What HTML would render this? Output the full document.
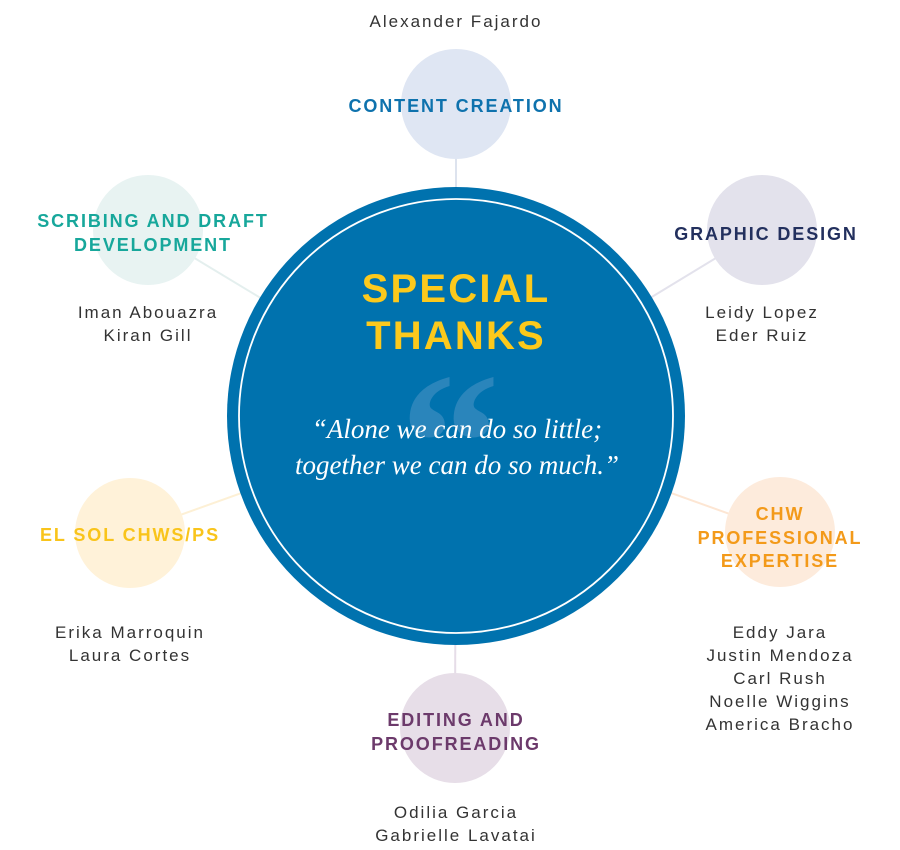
<!DOCTYPE html>
<html><head><meta charset="utf-8"><style>
html,body{margin:0;padding:0;background:#fff;}
svg{display:block;}
.h{font-family:"Liberation Sans",sans-serif;font-weight:bold;font-size:18px;letter-spacing:1.9px;text-anchor:middle;}
.n{font-family:"Liberation Sans",sans-serif;font-size:17px;letter-spacing:2px;fill:#333;text-anchor:middle;}
</style></head><body>
<svg width="900" height="850" viewBox="0 0 900 850" xmlns="http://www.w3.org/2000/svg">
<g stroke-width="2">
<line x1="456" y1="104" x2="456" y2="416" stroke="#dde3ee"/>
<line x1="762" y1="230" x2="456" y2="416" stroke="#e3e2ec"/>
<line x1="148" y1="230" x2="456" y2="416" stroke="#e4efee"/>
<line x1="130" y1="533" x2="456" y2="416" stroke="#fdf0d5"/>
<line x1="780" y1="532" x2="456" y2="416" stroke="#fde6d3"/>
<line x1="455" y1="728" x2="456" y2="416" stroke="#e6dde8"/>
</g>
<circle cx="456" cy="104" r="55" fill="#dfe6f3"/>
<circle cx="762" cy="230" r="55" fill="#e3e2ec"/>
<circle cx="148" cy="230" r="55" fill="#e8f3f2"/>
<circle cx="130" cy="533" r="55" fill="#fff2d9"/>
<circle cx="780" cy="532" r="55" fill="#fdebdc"/>
<circle cx="455" cy="728" r="55" fill="#e7dee8"/>
<circle cx="456" cy="416" r="229" fill="#0072ae"/>
<circle cx="456" cy="416" r="217" fill="none" stroke="#fff" stroke-width="1.8"/>
<text x="456" y="302" font-family="Liberation Sans,sans-serif" font-size="40" font-weight="bold" fill="#fcc91c" text-anchor="middle" letter-spacing="2.2">SPECIAL</text>
<text x="456" y="349" font-family="Liberation Sans,sans-serif" font-size="40" font-weight="bold" fill="#fcc91c" text-anchor="middle" letter-spacing="2.2">THANKS</text>
<text x="450" y="510" font-family="Liberation Serif,serif" font-size="200" font-weight="bold" fill="#2a85bb" text-anchor="middle">“</text>
<text x="457" y="438" font-family="Liberation Serif,serif" font-style="italic" font-size="27" fill="#fff" text-anchor="middle">“Alone we can do so little;</text>
<text x="457" y="474" font-family="Liberation Serif,serif" font-style="italic" font-size="27" fill="#fff" text-anchor="middle">together we can do so much.”</text>

<text class="n" x="456" y="27">Alexander Fajardo</text>
<text class="h" x="456" y="112" fill="#0e72ad">CONTENT CREATION</text>
<text class="h" x="766" y="240" fill="#23305e">GRAPHIC DESIGN</text>
<text class="n" x="762" y="318">Leidy Lopez</text>
<text class="n" x="762" y="341">Eder Ruiz</text>
<text class="h" x="153" y="227" fill="#17a79b">SCRIBING AND DRAFT</text>
<text class="h" x="153" y="251" fill="#17a79b">DEVELOPMENT</text>
<text class="n" x="148" y="318">Iman Abouazra</text>
<text class="n" x="148" y="341">Kiran Gill</text>
<text class="h" x="130" y="541" fill="#f9c41b">EL SOL CHWS/PS</text>
<text class="n" x="130" y="638">Erika Marroquin</text>
<text class="n" x="130" y="661">Laura Cortes</text>
<text class="h" x="780" y="520" fill="#f39a1a">CHW</text>
<text class="h" x="780" y="544" fill="#f39a1a">PROFESSIONAL</text>
<text class="h" x="780" y="567" fill="#f39a1a">EXPERTISE</text>
<text class="n" x="780" y="638">Eddy Jara</text>
<text class="n" x="780" y="661">Justin Mendoza</text>
<text class="n" x="780" y="684">Carl Rush</text>
<text class="n" x="780" y="707">Noelle Wiggins</text>
<text class="n" x="780" y="730">America Bracho</text>
<text class="h" x="456" y="726" fill="#6c3a6b">EDITING AND</text>
<text class="h" x="456" y="750" fill="#6c3a6b">PROOFREADING</text>
<text class="n" x="456" y="818">Odilia Garcia</text>
<text class="n" x="456" y="841">Gabrielle Lavatai</text>
</svg>
</body></html>
